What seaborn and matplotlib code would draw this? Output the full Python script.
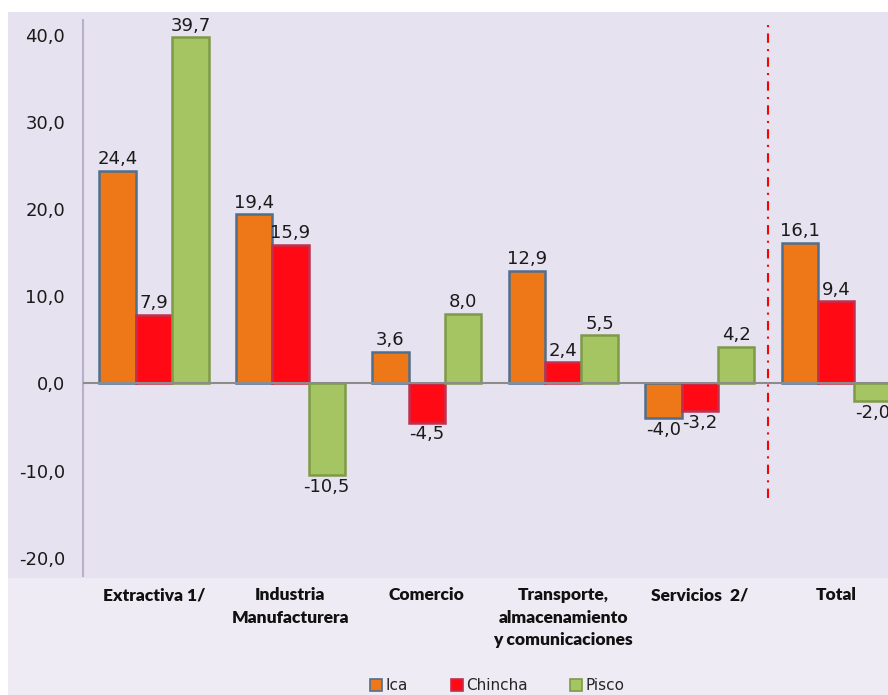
import matplotlib
matplotlib.use("Agg")
import matplotlib.pyplot as plt
import seaborn as sns
import pandas as pd
from matplotlib.patches import Rectangle, Patch
from matplotlib.ticker import FuncFormatter, FixedLocator

sectors = ["Extractiva 1/", "Industria\nManufacturera", "Comercio",
           "Transporte,\nalmacenamiento\ny comunicaciones", "Servicios  2/", "Total"]
regions = ["Ica", "Chincha", "Pisco"]
ica = [24.4, 19.4, 3.6, 12.9, -4.0, 16.1]
chincha = [7.9, 15.9, -4.5, 2.4, -3.2, 9.4]
pisco = [39.7, -10.5, 8.0, 5.5, 4.2, -2.0]
yticks = [-20, -10, 0, 10, 20, 30, 40]

colors = {"Ica": "#EE7817", "Chincha": "#FF0A14", "Pisco": "#A5C462"}
edges = {"Ica": "#4F6F90", "Chincha": "#C03050", "Pisco": "#7E9A48"}

rows = []
for r, vals in zip(regions, [ica, chincha, pisco]):
    for s, v in zip(sectors, vals):
        rows.append({"sector": s, "region": r, "value": v})
df = pd.DataFrame(rows)

sns.set_theme(style="white")
plt.rcParams["font.family"] = ["DejaVu Sans"]

W, H = 888, 695
fig = plt.figure(figsize=(W / 100, H / 100), dpi=100)
fig.patch.set_facecolor("white")
# outer chart area (lighter lavender) and plot area (darker)
fig.add_artist(Rectangle((8 / W, 0), 1 - 8 / W, 1 - 12 / H, transform=fig.transFigure,
                         facecolor="#EEEBF4", edgecolor="none", zorder=-10))
fig.add_artist(Rectangle((8 / W, 1 - 578 / H), 1 - 8 / W, (578 - 12) / H, transform=fig.transFigure,
                         facecolor="#E7E2EF", edgecolor="none", zorder=-9))

ax = fig.add_axes([83 / W, 1 - 576 / H, 1 - 83 / W, (576 - 20) / H])
ax.set_facecolor("none")

sns.barplot(data=df, x="sector", y="value", hue="region", hue_order=regions,
            order=sectors, palette=colors, width=0.8, saturation=1, ax=ax,
            legend=False, errorbar=None, zorder=3)

for cont, r in zip(ax.containers, regions):
    for bar in cont:
        bar.set_edgecolor(edges[r])
        bar.set_linewidth(1.8)
    labels = [f"{v:.1f}".replace(".", ",") for v in cont.datavalues]
    ax.bar_label(cont, labels=labels, padding=2, fontsize=13, color="#1a1a1a",
                 clip_on=False)

ax.set_ylim(-22.1, 41.7)
ax.set_xlim(-0.52, 5.38)
ax.yaxis.set_major_locator(FixedLocator(yticks))
ax.yaxis.set_major_formatter(FuncFormatter(lambda v, p: f"{v:.1f}".replace(".", ",")))
ax.tick_params(axis="y", length=0, pad=13, labelsize=13, labelcolor="#1a1a1a")
ax.tick_params(axis="x", length=0, pad=8)
for lab in ax.get_xticklabels():
    lab.set_fontfamily(["Lato", "DejaVu Sans"])
    lab.set_fontweight("heavy")
    lab.set_fontsize(12.5)
    lab.set_color("#111111")
    lab.set_verticalalignment("top")
    lab.set_multialignment("center")
    lab.set_linespacing(1.5)
ax.set_xlabel("")
ax.set_ylabel("")

for s in ["top", "right", "bottom"]:
    ax.spines[s].set_visible(False)
ax.spines["left"].set_color("#B8AFCB")
ax.spines["left"].set_linewidth(1.5)

ax.axhline(0, color="#8C8C8C", lw=1.5, zorder=4)
ax.plot([4.5, 4.5], [-13.1, 41.5], color="#FF0000", lw=1.5,
        linestyle=(0, (4.5, 3, 1, 3)), zorder=5)

handles = [Patch(facecolor=colors[r], edgecolor=edges[r], linewidth=1.2) for r in regions]
fig.legend(handles, regions, loc="center", bbox_to_anchor=(0.56, 1 - 686 / H), ncol=3,
           frameon=False, fontsize=11, handlelength=0.8, handleheight=0.8,
           handletextpad=0.2, columnspacing=2.8)

fig.savefig("out.png", dpi=100)
